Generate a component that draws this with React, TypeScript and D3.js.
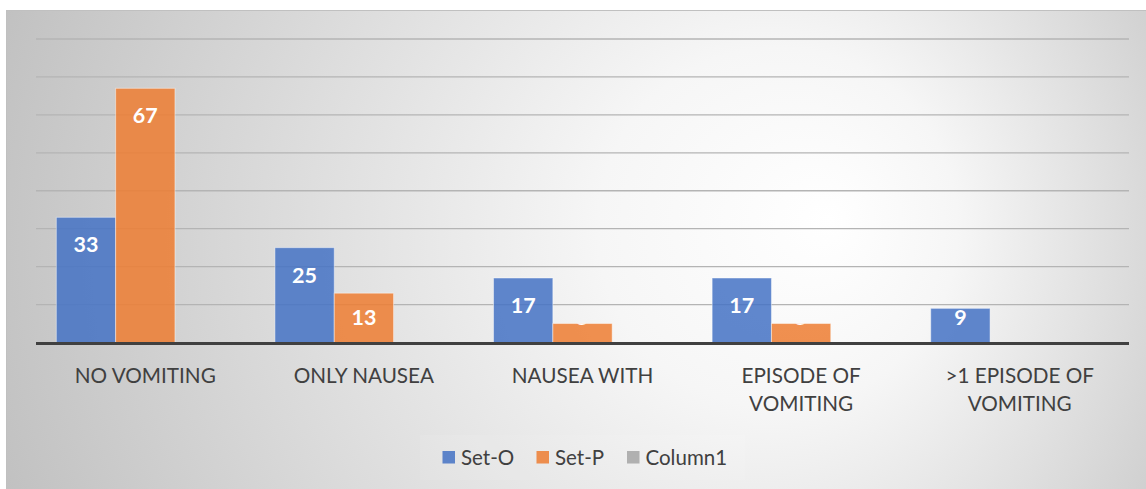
import React from "react";
import * as d3 from "d3";

const categories: string[][] = [
  ["NO VOMITING"],
  ["ONLY NAUSEA"],
  ["NAUSEA WITH"],
  ["EPISODE OF", "VOMITING"],
  [">1 EPISODE OF", "VOMITING"],
];
const seriesNames = ["Set-O", "Set-P", "Column1"];
const setO = [33, 25, 17, 17, 9];
const setP = [67, 13, 5, 5, 0];
const column1: (number | null)[] = [null, null, null, null, null];
const seriesColors = ["#4472C4", "#ED7D31", "#A5A5A5"];
const yTicks = [10, 20, 30, 40, 50, 60, 70, 80];

const W = 1146;
const H = 489;
const FONT = "Lato, 'Open Sans', sans-serif";

export default function App() {
  const plotLeft = 36;
  const plotRight = 1129;
  const baseY = 342.5;
  const y = d3.scaleLinear().domain([0, 80]).range([baseY, 39]);
  const keys = categories.map((_, i) => String(i));
  const x0 = d3.scaleBand<string>().domain(keys).range([plotLeft, plotRight]).padding(0);
  const step = x0.bandwidth();
  const gap = step * 0.186;
  const x1 = d3
    .scaleBand<string>()
    .domain(seriesNames)
    .range([gap / 2, step - gap / 2])
    .padding(0);
  const allSeries = [setO, setP, column1];

  const bars: JSX.Element[] = [];
  const labels: JSX.Element[] = [];
  const clips: JSX.Element[] = [];
  allSeries.forEach((vals, si) => {
    vals.forEach((v, ci) => {
      if (v == null || v <= 0) return;
      const bx = (x0(keys[ci]) as number) + (x1(seriesNames[si]) as number);
      const bw = x1.bandwidth();
      const top = y(v);
      const h = baseY - top;
      const id = `clip-${si}-${ci}`;
      clips.push(
        <clipPath id={id} key={id}>
          <rect x={bx} y={top} width={bw} height={h} />
        </clipPath>
      );
      bars.push(
        <rect
          key={`b-${si}-${ci}`}
          x={bx}
          y={top}
          width={bw}
          height={h}
          fill={seriesColors[si]}
          fillOpacity={0.85}
          stroke="#ffffff"
          strokeOpacity={0.45}
          strokeWidth={1}
        />
      );
      const ly = Math.min(top + 35, baseY - 18);
      labels.push(
        <text
          key={`l-${si}-${ci}`}
          x={bx + bw / 2}
          y={ly}
          textAnchor="middle"
          fill="#ffffff"
          fontSize={21.5}
          fontWeight={700}
          fontFamily={FONT}
          clipPath={`url(#${id})`}
        >
          {v}
        </text>
      );
    });
  });

  const legendItems = [
    { name: seriesNames[0], color: seriesColors[0], sx: 442.5, tx: 461 },
    { name: seriesNames[1], color: seriesColors[1], sx: 536.5, tx: 555 },
    { name: seriesNames[2], color: seriesColors[2], sx: 627, tx: 645.5 },
  ];

  return (
    <svg
      width={W}
      height={H}
      style={{ position: "absolute", left: 0, top: 0 }}
      xmlns="http://www.w3.org/2000/svg"
    >
      <defs>
        <radialGradient
          id="bg"
          gradientUnits="userSpaceOnUse"
          cx={620}
          cy={250}
          r={720}
          fx={830}
          fy={220}
        >
          <stop offset="0" stopColor="#ffffff" />
          <stop offset="0.25" stopColor="#f6f6f6" />
          <stop offset="1" stopColor="#bcbcbc" />
        </radialGradient>
        {clips}
      </defs>
      <rect x={0} y={0} width={W} height={H} fill="#ffffff" />
      <rect x={6} y={10} width={W - 6} height={H - 10} fill="url(#bg)" />
      <line x1={6} x2={W} y1={10.5} y2={10.5} stroke="#c0c0c0" strokeWidth={1} />
      <line x1={6.5} x2={6.5} y1={10} y2={H} stroke="#c0c0c0" strokeWidth={1} />
      {yTicks.map((t) => (
        <line
          key={t}
          x1={plotLeft}
          x2={plotRight}
          y1={y(t)}
          y2={y(t)}
          stroke="#b4b4b4"
          strokeWidth={1.3}
        />
      ))}
      {bars}
      {labels}
      <line x1={plotLeft} x2={plotRight} y1={baseY + 1} y2={baseY + 1} stroke="#404040" strokeWidth={3} />
      {categories.map((lines, ci) => (
        <text
          key={ci}
          x={(x0(keys[ci]) as number) + step / 2}
          textAnchor="middle"
          fill="#404040"
          fontSize={20.7}
          fontFamily={FONT}
        >
          {lines.map((ln, li) => (
            <tspan key={li} x={(x0(keys[ci]) as number) + step / 2} y={382.5 + li * 28.7}>
              {ln}
            </tspan>
          ))}
        </text>
      ))}
      <rect x={420} y={435} width={325} height={45} fill="#ffffff" fillOpacity={0.08} />
      {legendItems.map((it) => (
        <g key={it.name}>
          <rect x={it.sx} y={451} width={12.5} height={12.5} fill={it.color} fillOpacity={0.85} />
          <text x={it.tx} y={464.5} fill="#404040" fontSize={20.5} fontFamily={FONT}>
            {it.name}
          </text>
        </g>
      ))}
    </svg>
  );
}
